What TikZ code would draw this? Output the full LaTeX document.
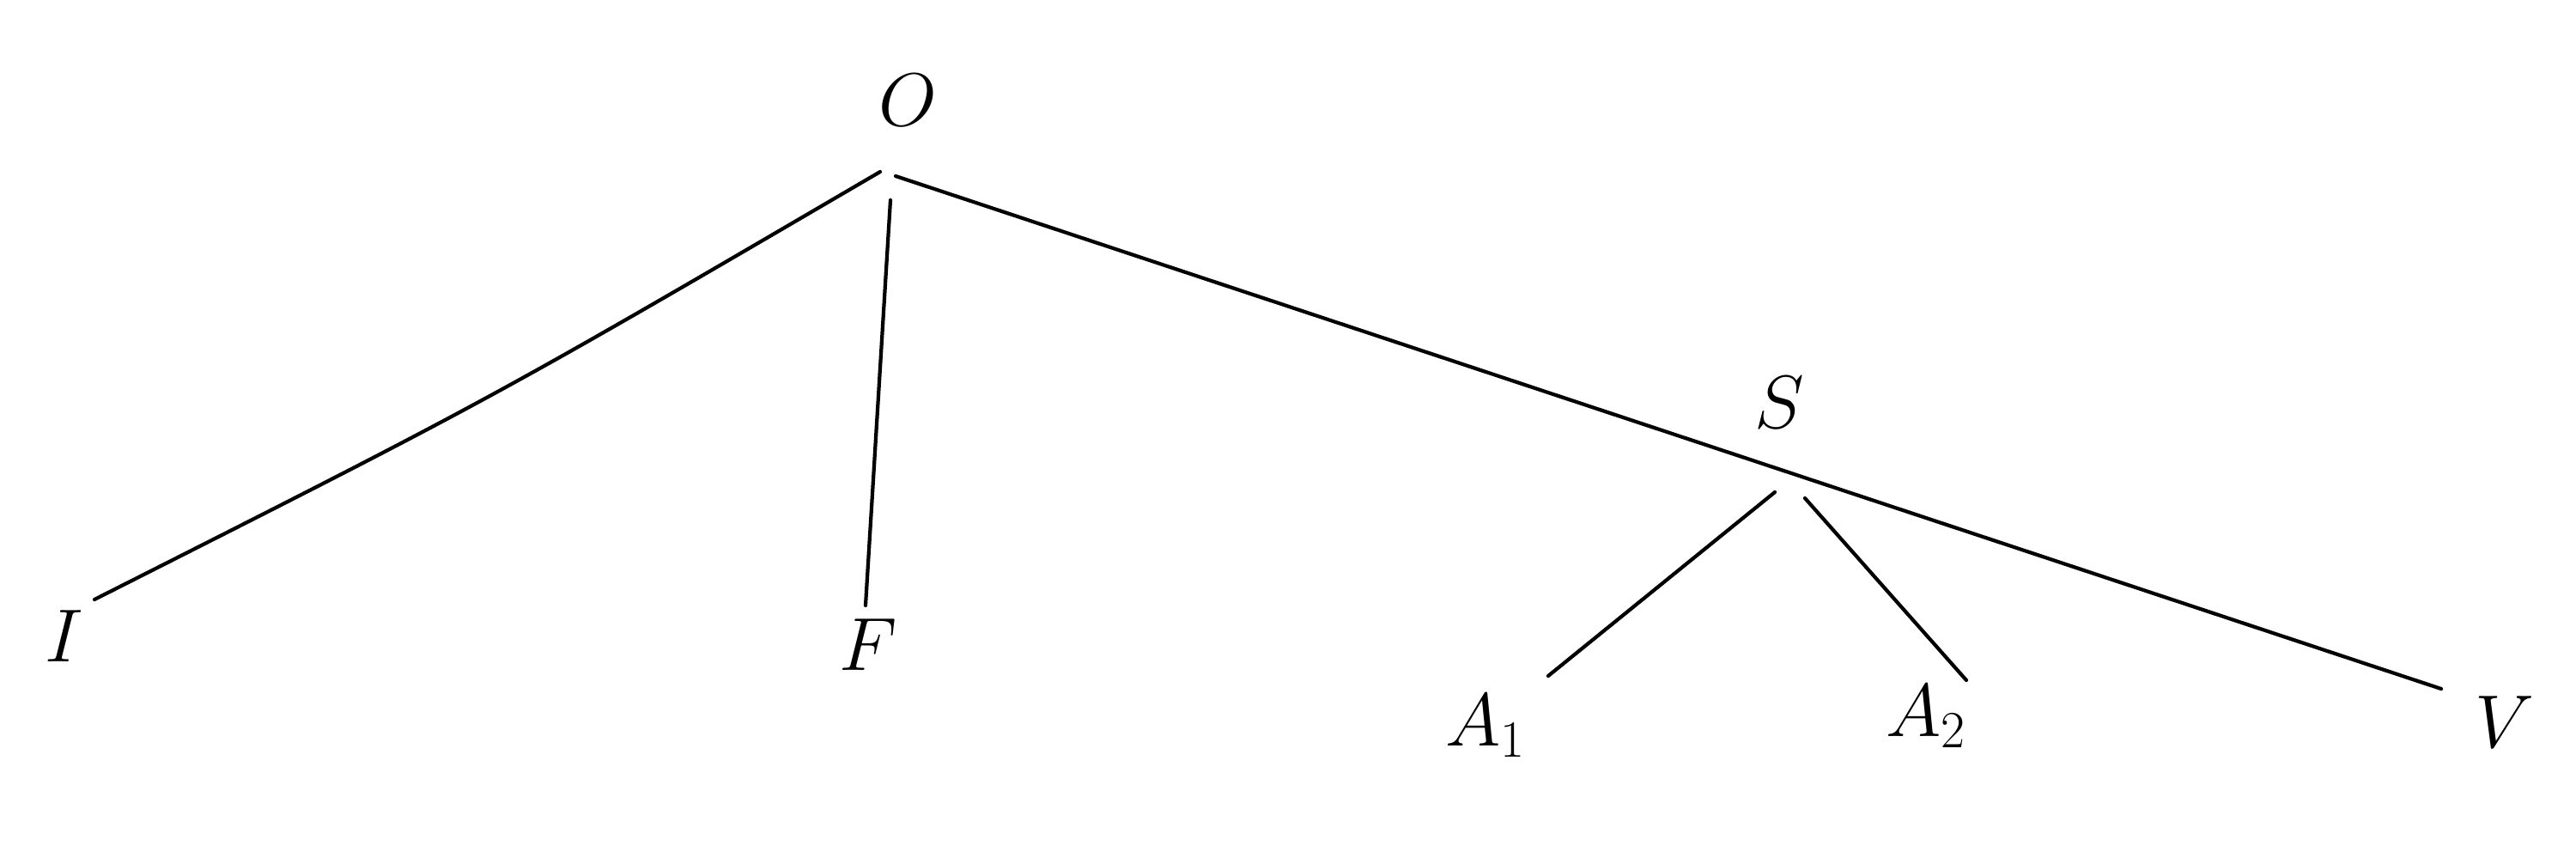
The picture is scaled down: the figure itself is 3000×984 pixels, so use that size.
\documentclass[tikz,border=0pt]{standalone}
\begin{document}
\begin{tikzpicture}[x=0.01cm,y=-0.01cm,
  lbl/.style={inner sep=0pt,font=\fontsize{25}{30}\selectfont},
  edge/.style={line width=1.2pt,line cap=round,black}]
\useasboundingbox (0,0) rectangle (3000,984);
% labels
\node[lbl,anchor=base] (O) at (1057,146) {$O$};
\node[lbl,anchor=base] (I) at (75,770) {$I$};
\node[lbl,anchor=base] (F) at (1011,780) {$F$};
\node[lbl,anchor=base] (S) at (2072,498) {$S$};
\node[lbl,anchor=base west] (A1) at (1683,868) {$A_1$};
\node[lbl,anchor=base west] (A2) at (2196,857) {$A_2$};
\node[lbl,anchor=base] (V) at (2917,870) {$V$};
% connector end points
\coordinate (Ol) at (1025,200);
\coordinate (Ok) at (575,463);
\coordinate (Ie) at (110,698);
\coordinate (Od) at (1037,233);
\coordinate (Fe) at (1008,705);
\coordinate (Or) at (1043,205);
\coordinate (Ve) at (2843,802);
\coordinate (Sl) at (2067,573);
\coordinate (A1e) at (1803,787);
\coordinate (Sr) at (2102,580);
\coordinate (A2e) at (2290,792);
% connectors
\draw[edge] (Ol) .. controls (Ok) .. (Ie);
\draw[edge] (Od) -- (Fe);
\draw[edge] (Or) -- (Ve);
\draw[edge] (Sl) -- (A1e);
\draw[edge] (Sr) -- (A2e);
\end{tikzpicture}
\end{document}
